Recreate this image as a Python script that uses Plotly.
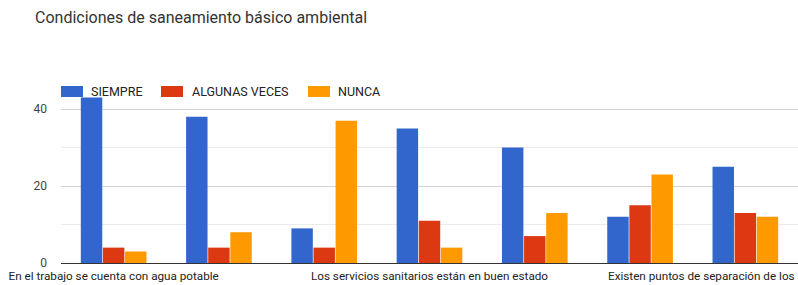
import plotly.graph_objects as go

categories = [
    "En el trabajo se cuenta con agua potable",
    "Se cuenta con manejo adecuado de aguas residuales",
    "Existen plagas en el lugar de trabajo",
    "Los servicios sanitarios están en buen estado",
    "Se realiza recolección periódica de basuras",
    "Existen olores desagradables en el lugar de trabajo",
    "Existen puntos de separación de los residuos sólidos",
]
shown_labels = [categories[0], categories[3], categories[6]]

siempre = [43, 38, 9, 35, 30, 12, 25]
algunas = [4, 4, 4, 11, 7, 15, 13]
nunca = [3, 8, 37, 4, 13, 23, 12]

series_names = ["SIEMPRE", "ALGUNAS VECES", "NUNCA"]
colors = ["#3366CC", "#DC3912", "#FF9900"]

W, H = 798, 285
ML, MR, MT, MB = 61, 0, 88, 22
PW, PH = W - ML - MR, H - MT - MB


def px_x(x):
    return (x - ML) / PW


def px_y(y):
    return (H - MB - y) / PH


fig = go.Figure()
for name, vals, col in zip(series_names, [siempre, algunas, nunca], colors):
    fig.add_trace(go.Bar(
        x=categories, y=vals, name=name, showlegend=False,
        marker=dict(color=col, line=dict(width=0)),
    ))

# custom legend with wide swatches (Google-Charts style)
legend_swatch_x = [61, 161, 308]
legend_text_x = [89, 190, 336]
shapes = []
annotations = []
for name, col, sx, tx in zip(series_names, colors, legend_swatch_x, legend_text_x):
    shapes.append(dict(
        type="rect", xref="paper", yref="paper",
        x0=px_x(sx), x1=px_x(sx + 22), y0=px_y(97), y1=px_y(86),
        fillcolor=col, line=dict(width=0), layer="above",
    ))
    annotations.append(dict(
        text=name, xref="paper", yref="paper", x=px_x(tx), y=px_y(91.5),
        xanchor="left", yanchor="middle", showarrow=False,
        font=dict(size=12.5, color="#222222"),
    ))

fig.update_layout(
    width=W, height=H,
    margin=dict(l=ML, r=MR, t=MT, b=MB, autoexpand=False),
    paper_bgcolor="white", plot_bgcolor="white",
    font=dict(family="Roboto, Arial, sans-serif", color="#222222", size=12),
    title=dict(
        text="Condiciones de saneamiento básico ambiental",
        x=35 / W, xanchor="left", y=1 - 17 / H, yanchor="middle",
        font=dict(size=16, color="#333333"),
    ),
    barmode="group", bargap=0.37, bargroupgap=0.03,
    showlegend=False,
    shapes=shapes,
    annotations=annotations,
    xaxis=dict(
        tickmode="array", tickvals=shown_labels, ticktext=shown_labels,
        showgrid=False, showline=False, ticks="outside", ticklen=2,
        tickcolor="white", tickfont=dict(size=11.7, color="#222222"),
        automargin=False,
    ),
    yaxis=dict(
        range=[0, 45.5], tickvals=[0, 20, 40], showgrid=True,
        gridcolor="#D5D5D5", gridwidth=1,
        zeroline=True, zerolinecolor="#333333", zerolinewidth=1,
        ticks="", ticklabelstandoff=13, automargin=False,
        tickfont=dict(size=12, color="#444444"),
        minor=dict(dtick=10, tick0=0, showgrid=True, gridcolor="#EBEBEB"),
    ),
)

fig.write_html(
    "out.html",
    config={"displayModeBar": False},
    post_script="document.body.style.margin='0';document.body.style.overflow='hidden';",
)
